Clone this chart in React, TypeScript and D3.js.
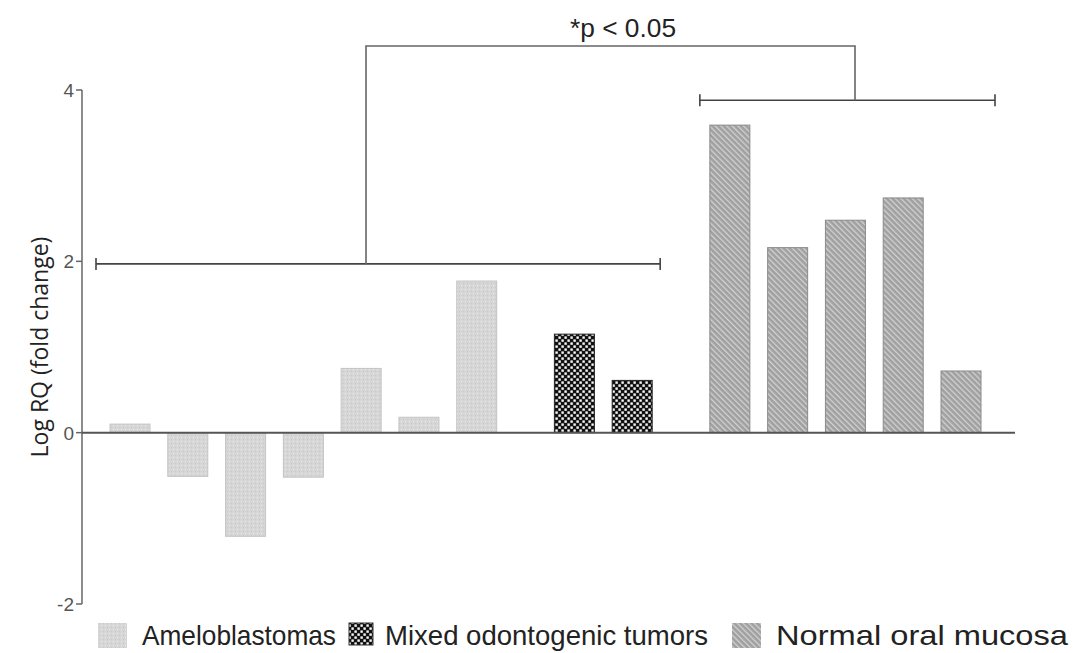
import React from "react";
import * as d3 from "d3";

const ameloValues = [0.1, -0.51, -1.21, -0.52, 0.75, 0.18, 1.77];
const mixedValues = [1.15, 0.61];
const normalValues = [3.59, 2.16, 2.48, 2.74, 0.72];
const groupNames = ["Ameloblastomas", "Mixed odontogenic tumors", "Normal oral mucosa"];
const yTicks = [-2, 0, 2, 4];
const bracketLeftLevel = 1.97;
const bracketRightLevel = 3.88;
const bracketTopY = 46;
const sigLabel = "*p < 0.05";
const yLabel = "Log RQ (fold change)";

const W = 1083, H = 653;

export default function App() {
  const groups = [ameloValues, mixedValues, normalValues];
  const bars: { g: number; slot: number; v: number }[] = [];
  let idx = 0;
  groups.forEach((vals, g) => {
    vals.forEach((v) => {
      bars.push({ g, slot: idx + 0.69 * g, v });
      idx++;
    });
  });
  const lastSlot = bars[bars.length - 1].slot;
  const x = d3.scaleLinear().domain([0, lastSlot]).range([110, 941]);
  const bw = 40;
  const y = d3.scaleLinear().domain([-2, 4]).range([604, 90]);
  const axisX = 82;
  const fills = ["url(#patA)", "url(#patM)", "url(#patN)"];
  const strokes = ["#c4c4c4", "#222", "#8a8a8a"];

  const ameloBars = bars.filter((b) => b.g < 2);
  const leftX1 = 96;
  const leftX2 = x(ameloBars[ameloBars.length - 1].slot) + bw + 8;
  const rightX1 = x(bars.find((b) => b.g === 2)!.slot) - 10;
  const rightX2 = x(lastSlot) + bw + 14;
  const leftMid = 366;
  const rightMid = 855;

  const legendItems = [
    { sx: 98, tx: 142, tl: 194, w: 29, h: 25 },
    { sx: 349, tx: 385, tl: 323, w: 24, h: 22 },
    { sx: 732, tx: 776, tl: 292, w: 29, h: 25 },
  ];
  const legendFont = "Liberation Sans, Arial, sans-serif";

  return (
    <svg width={W} height={H} style={{ position: "absolute", left: 0, top: 0, background: "#fff" }}>
      <defs>
        <pattern id="patA" width="4" height="4" patternUnits="userSpaceOnUse">
          <rect width="4" height="4" fill="#d6d6d6" />
          <rect x="1" y="1" width="1" height="1" fill="#ececec" />
          <rect x="3" y="3" width="1" height="1" fill="#c8c8c8" />
        </pattern>
        <pattern id="patM" width="6" height="6" patternUnits="userSpaceOnUse">
          <rect width="6" height="6" fill="#111" />
          <rect x="0.4" y="0.4" width="2.4" height="2.4" fill="#fafafa" />
          <rect x="3.4" y="3.4" width="2.4" height="2.4" fill="#fafafa" />
        </pattern>
        <pattern id="patN" width="4" height="4" patternUnits="userSpaceOnUse" patternTransform="rotate(-45)">
          <rect width="4" height="4" fill="#a0a0a0" />
          <rect width="1.3" height="4" fill="#d2d2d2" />
        </pattern>
      </defs>

      {/* y axis */}
      <line x1={axisX} x2={axisX} y1={y(4)} y2={y(-2)} stroke="#666" strokeWidth={1.5} />
      {yTicks.map((t) => (
        <g key={t}>
          <line x1={axisX - 6} x2={axisX} y1={y(t)} y2={y(t)} stroke="#666" strokeWidth={1.5} />
          <text x={axisX - 8} y={y(t)} dy="0.36em" textAnchor="end" fontFamily="Liberation Sans, Arial, sans-serif" fontSize={19} fill="#555">
            {t}
          </text>
        </g>
      ))}
      <text
        transform={`translate(48, ${(y(4) + y(-2)) / 2}) rotate(-90)`}
        textAnchor="middle"
        fontFamily="Open Sans, sans-serif"
        fontSize={23}
        fill="#222"
      >
        {yLabel}
      </text>

      {/* bars */}
      {bars.map((b, i) => {
        const y0 = y(0), yv = y(b.v);
        return (
          <rect
            key={i}
            x={x(b.slot)}
            y={Math.min(y0, yv)}
            width={bw}
            height={Math.abs(yv - y0)}
            fill={fills[b.g]}
            stroke={strokes[b.g]}
            strokeWidth={1}
          />
        );
      })}

      {/* zero line */}
      <line x1={axisX} x2={1015} y1={y(0)} y2={y(0)} stroke="#555" strokeWidth={2} />

      {/* brackets */}
      <g stroke="#444" strokeWidth={1.6} fill="none">
        <line x1={leftX1} x2={leftX2} y1={y(bracketLeftLevel)} y2={y(bracketLeftLevel)} />
        <line x1={leftX1} x2={leftX1} y1={y(bracketLeftLevel) - 6} y2={y(bracketLeftLevel) + 6} />
        <line x1={leftX2} x2={leftX2} y1={y(bracketLeftLevel) - 6} y2={y(bracketLeftLevel) + 6} />
        <line x1={rightX1} x2={rightX2} y1={y(bracketRightLevel)} y2={y(bracketRightLevel)} />
        <line x1={rightX1} x2={rightX1} y1={y(bracketRightLevel) - 6} y2={y(bracketRightLevel) + 6} />
        <line x1={rightX2} x2={rightX2} y1={y(bracketRightLevel) - 6} y2={y(bracketRightLevel) + 6} />
        <path d={`M${leftMid},${y(bracketLeftLevel)} V${bracketTopY} H${rightMid} V${y(bracketRightLevel)}`} stroke="#666" />
      </g>
      <text
        x={570}
        y={37}
        textLength={106}
        lengthAdjust="spacingAndGlyphs"
        fontFamily={legendFont}
        fontSize={25}
        fill="#222"
      >
        {sigLabel}
      </text>

      {/* legend */}
      {groupNames.map((n, i) => (
        <g key={n}>
          <rect
            x={legendItems[i].sx}
            y={623}
            width={legendItems[i].w}
            height={legendItems[i].h}
            fill={fills[i]}
            stroke={i === 1 ? "#333" : "none"}
            strokeWidth={1}
          />
          <text
            x={legendItems[i].tx}
            y={645}
            textLength={legendItems[i].tl}
            lengthAdjust="spacingAndGlyphs"
            fontFamily={legendFont}
            fontSize={28}
            fill="#222"
          >
            {n}
          </text>
        </g>
      ))}
    </svg>
  );
}
